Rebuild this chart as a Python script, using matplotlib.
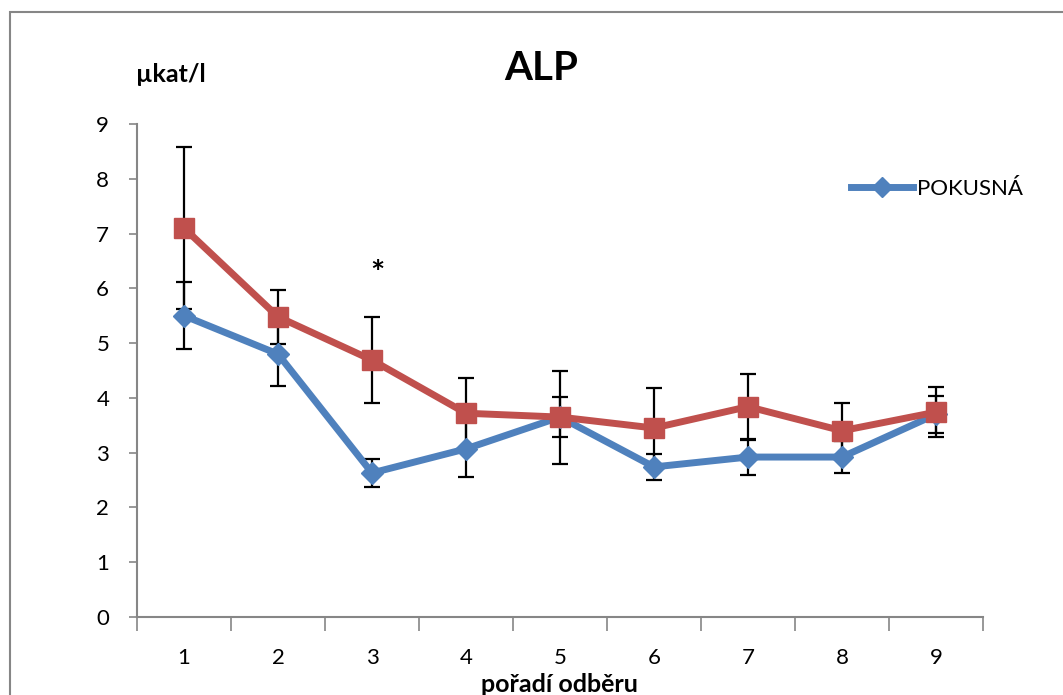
import matplotlib
matplotlib.use('Agg')
import matplotlib.pyplot as plt
from matplotlib.patches import Rectangle

# data
odber = [1, 2, 3, 4, 5, 6, 7, 8, 9]
pokusna = [5.50, 4.80, 2.63, 3.07, 3.65, 2.74, 2.92, 2.92, 3.70]
pokusna_sd = [0.61, 0.58, 0.26, 0.51, 0.37, 0.23, 0.33, 0.29, 0.34]
kontrolni = [7.10, 5.48, 4.69, 3.72, 3.65, 3.45, 3.84, 3.40, 3.74]
kontrolni_sd = [1.48, 0.49, 0.79, 0.64, 0.85, 0.73, 0.60, 0.50, 0.45]

BLUE = '#4F81BD'
RED = '#C0504D'
GRAY = '#868686'

plt.rcParams['font.family'] = ['Lato', 'DejaVu Sans']

fig = plt.figure(figsize=(10.63, 6.95), dpi=100)
ax = fig.add_axes([0.1289, 0.1122, 0.7958, 0.7094])

# chart border (cropped on right and bottom)
fig.patches.append(Rectangle((10 / 1063, -0.1), 1.2, 1 - 12 / 695 + 0.1,
                             transform=fig.transFigure, fill=False,
                             edgecolor=GRAY, lw=1.5))

ax.errorbar(odber, pokusna, yerr=pokusna_sd, fmt='none', ecolor='black',
            elinewidth=1.6, capsize=6, capthick=1.6, zorder=2)
ax.errorbar(odber, kontrolni, yerr=kontrolni_sd, fmt='none', ecolor='black',
            elinewidth=1.6, capsize=6, capthick=1.6, zorder=2)
ax.plot(odber, pokusna, color=BLUE, lw=5, marker='D', markersize=11,
        label='POKUSNÁ', zorder=3)
ax.plot(odber, kontrolni, color=RED, lw=5, marker='s', markersize=15,
        zorder=4)

ax.set_xlim(0.5, 9.5)
ax.set_ylim(0, 9)
ax.set_yticks(range(0, 10))
ax.set_xticks([i + 0.5 for i in range(0, 10)])
ax.set_xticklabels([])
ax.set_xticks(odber, minor=True)
ax.set_xticklabels([str(o) for o in odber], minor=True)
ax.tick_params(axis='x', which='major', length=10, width=1.2, color=GRAY)
ax.tick_params(axis='x', which='minor', length=0, pad=22, labelsize=16)
ax.tick_params(axis='y', length=6, width=1.2, color=GRAY, labelsize=16,
               pad=14)

for s in ['top', 'right']:
    ax.spines[s].set_visible(False)
for s in ['left', 'bottom']:
    ax.spines[s].set_color(GRAY)
    ax.spines[s].set_linewidth(1.5)

fig.text(541 / 1063, 1 - 68 / 695, 'ALP', fontsize=29, fontweight='bold',
         ha='center', va='center')
fig.text(136 / 1063, 1 - 75 / 695, 'µkat/l', fontsize=18, fontweight='bold',
         ha='left', va='center')
fig.text(559 / 1063, 1 - 684 / 695, 'pořadí odběru', fontsize=18,
         fontweight='bold', ha='center', va='center')
ax.text(3.06, 6.25, '*', fontsize=24, fontweight='bold', ha='center',
        va='center')

ax.legend(loc='upper left', bbox_to_anchor=(0.82, 0.93), frameon=False,
          fontsize=16, handlelength=2.8, handletextpad=0.2, markerscale=0.9)

fig.savefig('out.png', dpi=100)
